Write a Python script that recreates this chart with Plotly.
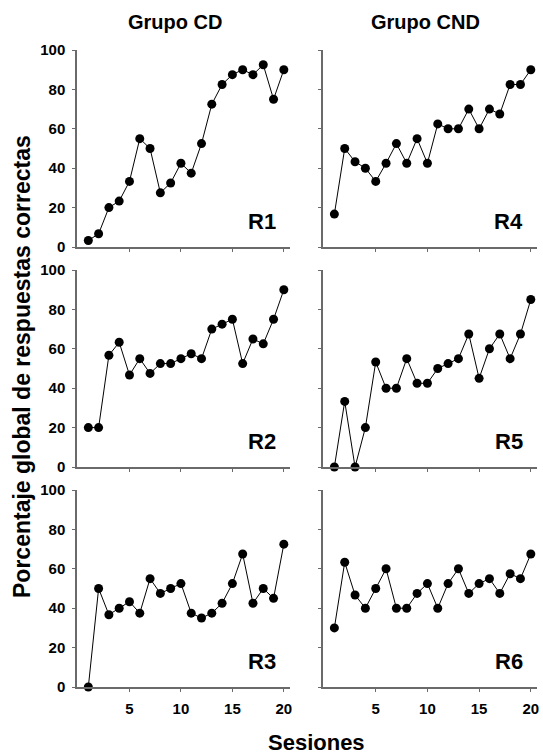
import plotly.graph_objects as go

sessions = list(range(1, 21))

r1 = [3.3, 6.7, 20, 23.3, 33.3, 55, 50, 27.5, 32.5, 42.5, 37.5, 52.5, 72.5, 82.5, 87.5, 90, 87.5, 92.5, 75, 90]
r2 = [20, 20, 56.7, 63.3, 46.7, 55, 47.5, 52.5, 52.5, 55, 57.5, 55, 70, 72.5, 75, 52.5, 65, 62.5, 75, 90]
r3 = [0, 50, 36.7, 40, 43.3, 37.5, 55, 47.5, 50, 52.5, 37.5, 35, 37.5, 42.5, 52.5, 67.5, 42.5, 50, 45, 72.5]
r4 = [16.7, 50, 43.3, 40, 33.3, 42.5, 52.5, 42.5, 55, 42.5, 62.5, 60, 60, 70, 60, 70, 67.5, 82.5, 82.5, 90]
r5 = [0, 33.3, 0, 20, 53.3, 40, 40, 55, 42.5, 42.5, 50, 52.5, 55, 67.5, 45, 60, 67.5, 55, 67.5, 85]
r6 = [30, 63.3, 46.7, 40, 50, 60, 40, 40, 47.5, 52.5, 40, 52.5, 60, 47.5, 52.5, 55, 47.5, 57.5, 55, 67.5]

panel_labels = ["R1", "R4", "R2", "R5", "R3", "R6"]
series = [r1, r4, r2, r5, r3, r6]
group_titles = ["Grupo CD", "Grupo CND"]
y_ticks = [0, 20, 40, 60, 80, 100]
x_ticks = [5, 10, 15, 20]

W, H = 543, 756
FONT = "Liberation Sans, Arial, sans-serif"
AXC = "#6a6a6a"

x_dom = [[77 / W, 290 / W], [323 / W, 537 / W]]
y_pix = [(50, 247), (270, 467), (490, 687)]
y_dom = [[1 - b / H, 1 - t / H] for t, b in y_pix]

fig = go.Figure()
layout = dict(
    width=W, height=H,
    margin=dict(l=0, r=0, t=0, b=0),
    paper_bgcolor="white", plot_bgcolor="white",
    showlegend=False,
    font=dict(family=FONT, color="black"),
)
annotations = []

for i, (lab, vals) in enumerate(zip(panel_labels, series)):
    row, col = divmod(i, 2)
    n = i + 1
    xa = "x" if n == 1 else f"x{n}"
    ya = "y" if n == 1 else f"y{n}"
    fig.add_trace(go.Scatter(
        x=sessions, y=vals, xaxis=xa, yaxis=ya, mode="lines+markers",
        line=dict(color="black", width=1),
        marker=dict(color="black", size=9),
        cliponaxis=False,
    ))
    layout["xaxis" if n == 1 else f"xaxis{n}"] = dict(
        domain=x_dom[col], anchor=ya, range=[-0.1, 20.6],
        showline=True, linecolor=AXC, linewidth=1.5,
        ticks="outside", ticklen=3, tickcolor=AXC, tickwidth=1,
        tickvals=x_ticks, showticklabels=(row == 2),
        tickfont=dict(family=FONT, size=15, weight="bold"),
        ticklabelstandoff=4,
        showgrid=False, zeroline=False, automargin=False,
    )
    layout["yaxis" if n == 1 else f"yaxis{n}"] = dict(
        domain=y_dom[row], anchor=xa, range=[0, 100],
        showline=True, linecolor=AXC, linewidth=1.5,
        ticks="outside", ticklen=3, tickcolor=AXC, tickwidth=1,
        tickvals=y_ticks, showticklabels=(col == 0),
        tickfont=dict(family=FONT, size=15, weight="bold"),
        ticklabelstandoff=4,
        showgrid=False, zeroline=False, automargin=False,
    )
    annotations.append(dict(
        x=19.4, y=13, xref=xa, yref=ya, text=lab, showarrow=False,
        xanchor="right", yanchor="middle",
        font=dict(family=FONT, size=22, weight="bold", color="black"),
    ))

for cx, t in zip([175 / W, 425 / W], group_titles):
    annotations.append(dict(
        x=cx, y=1 - 22 / H, xref="paper", yref="paper", text=t, showarrow=False,
        xanchor="center", yanchor="middle",
        font=dict(family=FONT, size=20, weight="bold", color="black"),
    ))

annotations.append(dict(
    x=22 / W, y=1 - 367 / H, xref="paper", yref="paper",
    text="Porcentaje global de respuestas correctas", textangle=-90,
    showarrow=False, xanchor="center", yanchor="middle",
    font=dict(family=FONT, size=23, weight="bold", color="black"),
))
annotations.append(dict(
    x=316 / W, y=1 - 742 / H, xref="paper", yref="paper",
    text="Sesiones", showarrow=False, xanchor="center", yanchor="middle",
    font=dict(family=FONT, size=22, weight="bold", color="black"),
))

layout["annotations"] = annotations
fig.update_layout(**layout)
fig.write_html(
    "out.html",
    config={"displayModeBar": False},
    post_script="document.body.style.margin='0';document.body.style.overflow='hidden';",
)
